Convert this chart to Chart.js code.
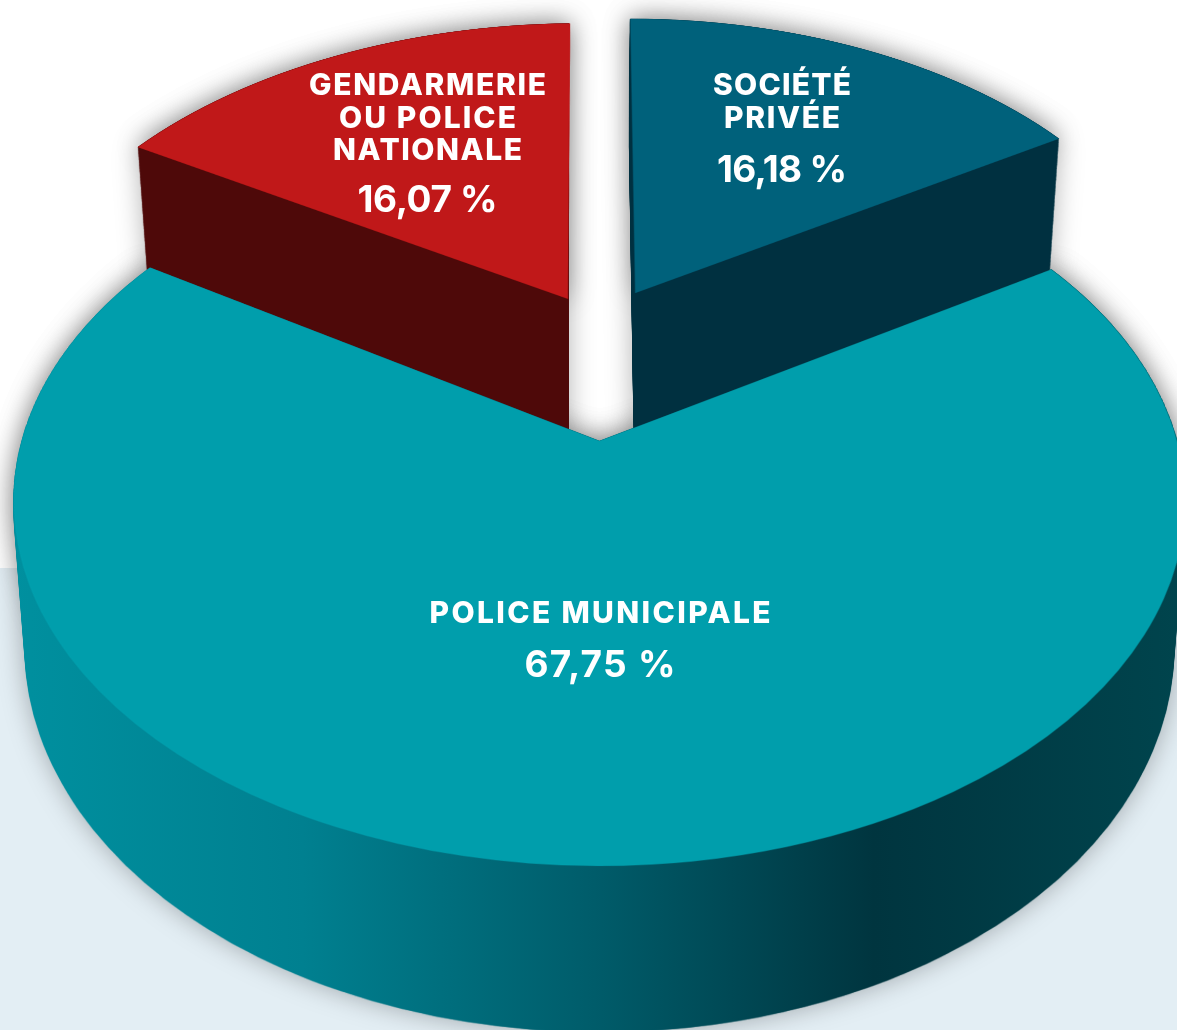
<!DOCTYPE html>
<html>
<head>
<meta charset="utf-8">
<style>html,body{margin:0;padding:0;background:#fff;overflow:hidden}canvas{display:block}</style>
<script src="https://cdn.jsdelivr.net/npm/chart.js@4"></script>
</head>
<body>
<canvas id="c" width="1177" height="1030"></canvas>
<script>
// ---- data (clockwise from the top of the pie) ----
const categories = [["SOCIÉTÉ", "PRIVÉE"], ["POLICE MUNICIPALE"], ["GENDARMERIE", "OU POLICE", "NATIONALE"]];
const values = [16.18, 67.75, 16.07];
const valueLabels = ["16,18 %", "67,75 %", "16,07 %"];
const topColors = ["#00617b", "#009eac", "#c01819"];
const wallColors = ["#003040", null, "#4e0909"];
const policeWallStops = [[0.0, "#00909f"], [0.25, "#008090"], [0.5, "#005c6a"], [0.74, "#00353f"], [1.0, "#00444d"]];

// ---- perspective of the pie plane ----
const X0 = 600, Y0 = 441, A = 580, B = 354.6, K = 0.1656;
// per slice: shift u, shift v, scale u, scale v, rotation (radians), shear
const explode = [
  [0.065, -0.448, 1.007, 1.035, 0, 0],
  [-0.001, 0, 0.996, 1, 0, 0],
  [-0.059, -0.429, 1.018, 1.034, -0.005, -0.017]
];
const wallClipRight = [null, null, 568.5];
const wallExtra = [7, 0, 0];
const WALL_A = 119.5, WALL_B = 0.0537, WALL_S = 0.98, WALL_STEPS = 170;
const MARGIN = 40, Q = 700, U_SPAN = 1.3, V_MIN = -1.75, V_MAX = 1.06;

// ---- label placement ----
const labelLayout = [
  {x: 782, lines: [95, 127.5], widths: [138, 116], val: 181.5, valW: 130},
  {x: 600, lines: [623], widths: [341], val: 677, valW: 151},
  {x: 427.5, lines: [95, 127.5, 160], widths: [237, 177, 189], val: 211.5, valW: 140}
];

function mk(w, h) { const c = document.createElement('canvas'); c.width = w; c.height = h; return c; }

function warpRow(dst, src, r) {
  const Ya = r / 2 - Y0, Yb = (r + 1) / 2 - Y0, Ym = (r + 0.5) / 2 - Y0;
  const va = Ya / (B + K * Ya), vb = Yb / (B + K * Yb), vm = Ym / (B + K * Ym);
  if (vb < V_MIN || va > V_MAX) return;
  const sx = A / (1 - K * vm);
  dst.drawImage(src, 0, (va - V_MIN) * Q, src.width, (vb - va) * Q,
    (X0 + MARGIN - U_SPAN * sx) * 2, r, 2 * U_SPAN * sx * 2, 1);
}

function fitText(c, txt, x, y, width) {
  c.letterSpacing = '0px';
  const w0 = c.measureText(txt).width;
  const ls = (width - w0) / (txt.length - 1);
  c.letterSpacing = ls + 'px';
  c.fillText(txt, x + ls / 2, y);
}

const pie3d = {
  id: 'pie3d',
  beforeDraw(chart) {
    const c = chart.ctx;
    c.save();
    c.fillStyle = '#ffffff'; c.fillRect(0, 0, chart.width, chart.height);
    c.fillStyle = '#e3eef4'; c.fillRect(0, 568, chart.width, chart.height - 568);
    c.restore();
  },
  beforeDatasetsDraw(chart) {
    const arcs = chart.getDatasetMeta(0).data;
    const LW = chart.width + 2 * MARGIN, LH = chart.height;
    const src = mk(Math.ceil(2 * U_SPAN * Q), Math.ceil((V_MAX - V_MIN) * Q));
    const sctx = src.getContext('2d');
    const big = mk(LW * 2, LH * 2), bctx = big.getContext('2d');
    bctx.imageSmoothingEnabled = true; bctx.imageSmoothingQuality = 'high';
    const order = [2, 0, 1];
    const tops = [], walls = [];
    arcs.forEach((arc, i) => {
      const R = arc.outerRadius, [du, dv, su, sv, rot, shear] = explode[i], f = Q / R;
      sctx.setTransform(1, 0, 0, 1, 0, 0);
      sctx.clearRect(0, 0, src.width, src.height);
      sctx.translate((U_SPAN + du) * Q, (dv - V_MIN) * Q);
      sctx.transform(1, shear, 0, 1, 0, 0);
      sctx.rotate(rot);
      sctx.scale(f * su, f * sv);
      sctx.translate(-arc.x, -arc.y);
      arc.draw(sctx);
      bctx.clearRect(0, 0, big.width, big.height);
      for (let r = 0; r < big.height; r++) warpRow(bctx, src, r);
      const top = mk(LW, LH), tc = top.getContext('2d');
      tc.imageSmoothingQuality = 'high';
      tc.drawImage(big, 0, 0, LW, LH);
      tops[i] = top;
      const wall = mk(LW, LH), wc = wall.getContext('2d');
      for (let s = WALL_STEPS; s >= 0; s--) {
        const t = s / WALL_STEPS, sX = 1 - (1 - WALL_S) * t;
        wc.setTransform(sX, 0, 0, 1 + WALL_B * t, (X0 + MARGIN) * (1 - sX), (WALL_A + wallExtra[i]) * t);
        wc.drawImage(top, 0, 0);
      }
      wc.setTransform(1, 0, 0, 1, 0, 0);
      if (wallClipRight[i]) wc.clearRect(wallClipRight[i] + MARGIN, 0, LW, LH);
      wc.globalCompositeOperation = 'source-in';
      if (wallColors[i]) wc.fillStyle = wallColors[i];
      else {
        const g = wc.createLinearGradient(MARGIN + 12, 0, MARGIN + 1177, 0);
        policeWallStops.forEach(p => g.addColorStop(p[0], p[1]));
        wc.fillStyle = g;
      }
      wc.fillRect(0, 0, LW, LH);
      walls[i] = wall;
    });
    const c = chart.ctx;
    c.save();
    c.shadowColor = 'rgba(0,0,0,0.3)'; c.shadowBlur = 26; c.shadowOffsetX = 0; c.shadowOffsetY = 0;
    order.forEach(i => { c.drawImage(walls[i], -MARGIN, 0); c.drawImage(tops[i], -MARGIN, 0); });
    c.shadowColor = 'transparent'; c.shadowBlur = 0;
    order.forEach(i => { c.drawImage(walls[i], -MARGIN, 0); c.drawImage(tops[i], -MARGIN, 0); });
    c.restore();
    return false;
  },
  afterDraw(chart) {
    const c = chart.ctx;
    c.save();
    c.fillStyle = '#ffffff';
    c.textAlign = 'center';
    c.textBaseline = 'alphabetic';
    categories.forEach((lines, i) => {
      const L = labelLayout[i];
      c.font = '800 30px Inter';
      lines.forEach((txt, j) => fitText(c, txt, L.x, L.lines[j], L.widths[j]));
      c.font = '700 37px Inter';
      fitText(c, valueLabels[i], L.x, L.val, L.valW);
    });
    c.restore();
  }
};

new Chart(document.getElementById('c'), {
  type: 'pie',
  data: {
    labels: categories.map(l => l.join(' ')),
    datasets: [{data: values, backgroundColor: topColors, borderWidth: 0}]
  },
  options: {
    responsive: false, animation: false, devicePixelRatio: 1,
    rotation: 0, circumference: 360,
    events: [],
    plugins: {legend: {display: false}, tooltip: {enabled: false}}
  },
  plugins: [pie3d]
});
</script>
</body>
</html>
